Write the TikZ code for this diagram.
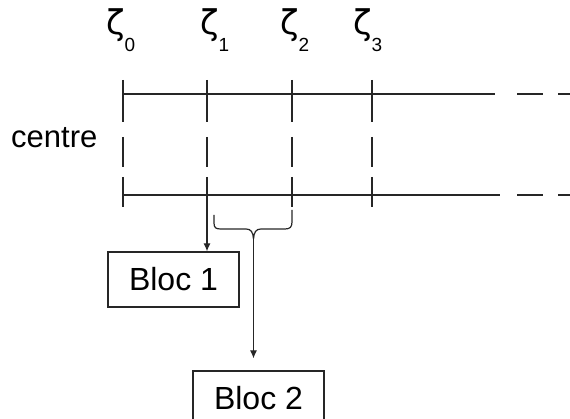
\documentclass[tikz,border=0pt]{standalone}
\usepackage{fontspec}
\setmainfont{Liberation Sans}
\newfontfamily\zfont{DejaVu Sans}
\usetikzlibrary{arrows.meta}
\newcommand{\zlab}[1]{{\zfont\fontsize{34}{34}\selectfont ζ}\raisebox{-17pt}{\fontsize{19}{19}\selectfont #1}}
\begin{document}
\begin{tikzpicture}[x=1pt,y=-1pt,
  line/.style={draw=black!85,line width=1.2pt},
  tickline/.style={line,dash pattern=on 42pt off 15pt on 30pt off 10pt on 30pt},
  hline/.style={line,dash pattern=on 372pt off 22pt on 26pt off 15pt on 30pt},
  bloc/.style={draw=black!85,line width=1.2pt,minimum width=131pt,minimum height=55pt,inner sep=0pt,font=\fontsize{32}{38}\selectfont},
  zlabel/.style={anchor=base west,inner sep=0pt},
  arr/.style={line,-{Latex[length=8pt,width=7pt]}},
  bracestyle/.style={draw=black!85,line width=1.2pt,line join=round}]
\useasboundingbox (0,0) rectangle (570,419);
% zeta labels
\node[zlabel] (z0) at (106,35) {\zlab{0}};
\node[zlabel] (z1) at (200,35) {\zlab{1}};
\node[zlabel] (z2) at (280,35) {\zlab{2}};
\node[zlabel] (z3) at (353,35) {\zlab{3}};
% centre
\node[anchor=base west,inner sep=0pt,font=\fontsize{31}{36}\selectfont] (centre) at (11,148) {centre};
% ticks
\foreach \i/\x in {0/123,1/207,2/292,3/372}{
  \coordinate (t\i) at (\x,80);
  \coordinate (b\i) at (\x,207);
}
\foreach \i in {0,1,2,3}{ \draw[tickline] (t\i) -- (b\i); }
% horizontal lines
\coordinate (h0) at (123,94);
\coordinate (h1) at (570,94);
\coordinate (g0) at (123,195);
\coordinate (g1) at (570,195);
\draw[hline] (h0) -- (h1);
\draw[hline,dash pattern=on 377pt off 17pt on 26pt off 15pt on 30pt] (g0) -- (g1);
% blocks
\node[bloc] (bloc1) at (173.5,279.5) {Bloc 1};
\node[bloc] (bloc2) at (258.5,398.5) {Bloc 2};
% arrow from zeta1 line to bloc1
\draw[arr] (b1) -- (b1 |- bloc1.north);
% brace
\coordinate (tip) at (253.5,239);
\draw[bracestyle] (214,215) -- (214,223) .. controls (214,228) and (216,229) .. (221,229)
  -- (246,229) .. controls (251,229) and (253,232) .. (tip)
  .. controls (254,232) and (256,229) .. (261,229) -- (285,229)
  .. controls (290,229) and (292,227) .. (292,222) -- (292,210);
\draw[arr,shorten >=12pt] (tip) -- (tip |- bloc2.north);
\end{tikzpicture}
\end{document}
